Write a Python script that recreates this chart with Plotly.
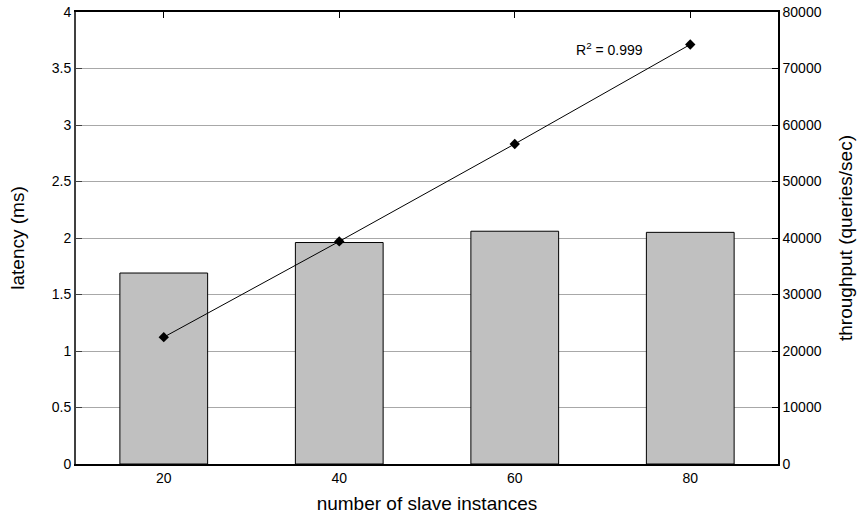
import plotly.graph_objects as go

instances = ["20", "40", "60", "80"]
latency_ms = [1.69, 1.96, 2.06, 2.05]
throughput_qps = [22450, 39400, 56650, 74250]
left_ticks = [0, 0.5, 1, 1.5, 2, 2.5, 3, 3.5, 4]
left_tick_labels = ["0", "0.5", "1", "1.5", "2", "2.5", "3", "3.5", "4"]
right_ticks = [0, 10000, 20000, 30000, 40000, 50000, 60000, 70000, 80000]
right_tick_labels = ["0", "10000", "20000", "30000", "40000", "50000", "60000", "70000", "80000"]
r2_label = "R<sup>2</sup> = 0.999"

FONT = "Liberation Sans, Arial, sans-serif"

fig = go.Figure()
fig.add_trace(go.Bar(
    x=instances, y=latency_ms, width=0.5,
    marker=dict(color="#c0c0c0", line=dict(color="#000000", width=1)),
    yaxis="y", showlegend=False,
))
fig.add_trace(go.Scatter(
    x=instances, y=throughput_qps, mode="lines+markers",
    line=dict(color="#000000", width=1),
    marker=dict(symbol="diamond", size=8, color="#000000"),
    yaxis="y2", showlegend=False,
))

fig.add_annotation(
    x=2.74, y=3.67, xref="x", yref="y", text=r2_label, showarrow=False,
    xanchor="right", yanchor="middle", font=dict(family=FONT, size=14, color="#000"),
)

fig.update_layout(
    width=859, height=515,
    margin=dict(l=76, r=81, t=12, b=51, autoexpand=False),
    plot_bgcolor="white", paper_bgcolor="white",
    font=dict(family=FONT, size=14, color="#000"),
    bargap=0.5,
    xaxis=dict(
        type="category", range=[-0.5, 3.5], automargin=False,
        showline=True, linecolor="#000", linewidth=2, mirror="ticks",
        ticks="inside", ticklen=6, tickcolor="#000", tickwidth=1,
        showgrid=False, layer="below traces",
        title=dict(text="number of slave instances", font=dict(size=19), standoff=12),
        tickfont=dict(size=14),
    ),
    yaxis=dict(
        range=[0, 4], tickvals=left_ticks, ticktext=left_tick_labels, automargin=False,
        showline=True, linecolor="#404040", linewidth=2,
        ticks="inside", ticklen=6, tickcolor="#404040",
        showgrid=True, gridcolor="#a8a8a8", gridwidth=1,
        zeroline=False, layer="below traces",
        title=dict(text="latency (ms)", font=dict(size=19), standoff=22),
        tickfont=dict(size=14),
    ),
    yaxis2=dict(
        range=[0, 80000], tickvals=right_ticks, ticktext=right_tick_labels,
        overlaying="y", side="right", automargin=False,
        showline=True, linecolor="#000", linewidth=1.5,
        ticks="inside", ticklen=6, tickcolor="#000",
        showgrid=False, zeroline=False,
        title=dict(text="throughput (queries/sec)", font=dict(size=19), standoff=18),
        tickfont=dict(size=14),
    ),
)

fig.write_html(
    "out.html",
    config={"displayModeBar": False},
    post_script="document.body.style.margin='0';document.body.style.overflow='hidden';",
)
